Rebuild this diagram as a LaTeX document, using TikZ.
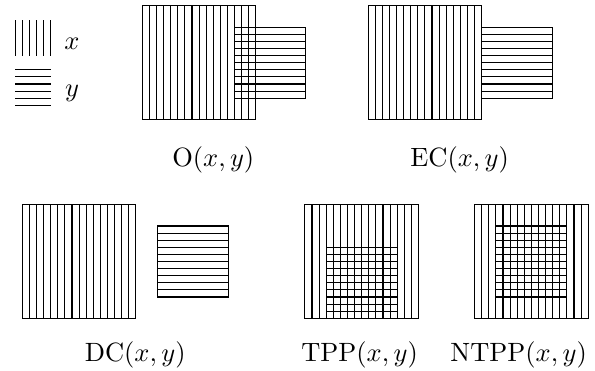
\documentclass[tikz,border=0pt]{standalone}
\usepackage{amsmath}

% region x: 16x16 square with vertical lines, region y: 10x10 square with horizontal lines
\newcommand{\xregion}[2]{%
  \draw (#1,#2) rectangle ++(16,16);
  \foreach \i in {1,...,15} \draw (#1+\i,#2) -- ++(0,16);
}
\newcommand{\yregion}[2]{%
  \draw (#1,#2) rectangle ++(10,10);
  \foreach \i in {1,...,9} \draw (#1,#2+\i) -- ++(10,0);
}

\begin{document}
\begin{tikzpicture}[x=0.0943cm,y=0.0943cm]
                \useasboundingbox (-3.14,-7.42) rectangle (80.66,44.83);
                % legend
                \foreach \i in {0,...,5} \draw (-1+\i,37) -- ++(0,5);
                \foreach \i in {0,...,5} \draw (-1,30+\i) -- ++(5,0);
                \node[anchor=base] (xlab) at (7,37.8) {$x$};
                \node[anchor=base] (ylab) at (7,31.2) {$y$};
                % O
                \xregion{16.9}{28}
                \yregion{29.9}{31}
                \node[anchor=base] (olab) at (26.9,21.4) {$\mathrm{O}(x,y)$};
                % EC
                \xregion{48.7}{28}
                \yregion{64.7}{31}
                \node[anchor=base] (eclab) at (61.6,21.4) {$\mathrm{EC}(x,y)$};
                % DC
                \xregion{0}{0}
                \yregion{19}{3}
                \node[anchor=base] (dclab) at (15.9,-6.1) {$\mathrm{DC}(x,y)$};
                % TPP
                \xregion{39.8}{0}
                \yregion{42.8}{0}
                \node[anchor=base] (tpplab) at (47.5,-6.1) {$\mathrm{TPP}(x,y)$};
                % NTPP
                \xregion{63.7}{0}
                \yregion{66.7}{3}
                \node[anchor=base] (ntpplab) at (69.9,-6.1) {$\mathrm{NTPP}(x,y)$};
            \end{tikzpicture}
\end{document}
